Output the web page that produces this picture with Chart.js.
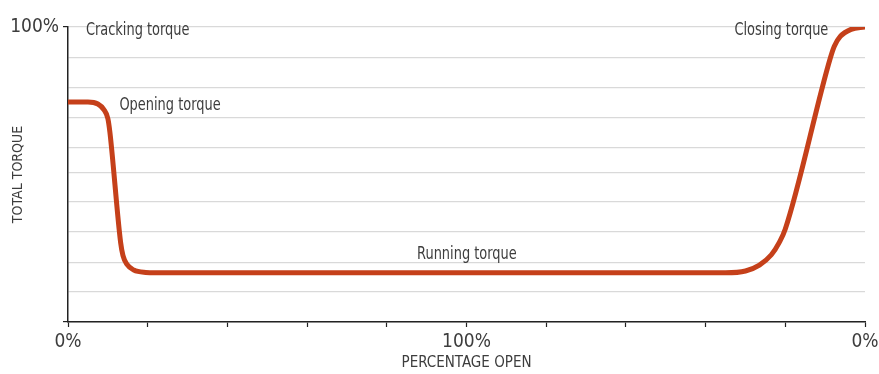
<!DOCTYPE html>
<html>
<head>
<meta charset="utf-8">
<script src="https://cdn.jsdelivr.net/npm/chart.js@4"></script>
<style>
  html, body { margin: 0; padding: 0; background: #fff; }
  #wrap { width: 879px; height: 374px; }
</style>
</head>
<body>
<div id="wrap"><canvas id="torqueChart" width="879" height="374"></canvas></div>
<script>
// stroke: 0..100 opening, 100..200 closing back to 0%
const strokePos = [0, 5.0, 7.5, 9.0, 10.0, 10.5, 13.2, 13.8, 14.8, 16.5, 19.5, 22, 165, 170, 173.5, 176.5, 178.5, 180, 191.3, 192.3, 193.8, 196.5, 200];
const torque    = [74.6, 74.6, 73.9, 72.0, 69.0, 64.5, 27.0, 22.5, 19.5, 17.6, 16.8, 16.7, 16.7, 17.3, 19.3, 22.8, 27.0, 31.5, 89.5, 93.5, 96.8, 99.2, 100];

const xTickLabels = { 0: '0%', 100: '100%', 200: '0%' };
const yTickLabels = { 100: '100%' };
const gridLevels = [0, 10.2, 20.3, 30.5, 40.7, 50.8, 59.0, 69.2, 79.3, 89.5, 100];

const notes = [
  { text: 'Cracking torque', x: 4.5, y: 97.2, align: 'left' },
  { text: 'Opening torque', x: 12.9, y: 71.7, align: 'left' },
  { text: 'Running torque', x: 100.1, y: 21.2, align: 'center' },
  { text: 'Closing torque', x: 190.8, y: 97.2, align: 'right' }
];

const FONT = "'DejaVu Sans Condensed', 'DejaVu Sans', sans-serif";
const TEXT = '#3d3d3d';

// annotation text, squeezed a bit to look like the condensed face of the original
const notePlugin = {
  id: 'notes',
  afterDatasetsDraw(chart) {
    const ctx = chart.ctx;
    const xs = chart.scales.x, ys = chart.scales.y;
    const squeeze = 0.8;
    ctx.save();
    ctx.font = '18px ' + FONT;
    ctx.fillStyle = TEXT;
    ctx.textBaseline = 'alphabetic';
    notes.forEach(n => {
      const px = xs.getPixelForValue(n.x), py = ys.getPixelForValue(n.y);
      ctx.save();
      ctx.translate(px, py);
      ctx.scale(squeeze, 1);
      ctx.textAlign = n.align;
      ctx.fillText(n.text, 0, 0);
      ctx.restore();
    });
    ctx.restore();
  }
};

new Chart(document.getElementById('torqueChart'), {
  type: 'line',
  data: {
    datasets: [{
      data: strokePos.map((x, i) => ({ x: x, y: torque[i] })),
      borderColor: '#c5401a',
      borderWidth: 5,
      pointRadius: 0,
      fill: false,
      cubicInterpolationMode: 'monotone',
      borderCapStyle: 'round'
    }]
  },
  options: {
    responsive: false,
    animation: false,
    layout: { padding: { top: 27, right: 14, left: 0, bottom: 0 } },
    plugins: { legend: { display: false }, tooltip: { enabled: false } },
    scales: {
      x: {
        type: 'linear',
        min: 0,
        max: 200,
        afterFit: s => { s.height = 52; s.paddingRight = 0; s.paddingLeft = 0; },
        ticks: {
          stepSize: 20,
          autoSkip: false,
          maxRotation: 0,
          padding: 4,
          color: TEXT,
          font: { family: FONT, size: 19 },
          callback: v => xTickLabels[v] || ''
        },
        grid: { drawOnChartArea: false, drawTicks: true, tickLength: 5, tickColor: '#222', tickWidth: 1.2 },
        border: { color: '#222', width: 1.5 },
        title: {
          display: true,
          text: 'PERCENTAGE OPEN',
          color: TEXT,
          font: { family: FONT, size: 15 },
          padding: { top: 0, bottom: 2 }
        }
      },
      y: {
        min: 0,
        max: 100,
        afterFit: s => { s.width = 68; },
        afterBuildTicks: s => { s.ticks = gridLevels.map(v => ({ value: v })); },
        ticks: {
          autoSkip: false,
          padding: 4,
          color: TEXT,
          font: { family: FONT, size: 19 },
          callback: v => yTickLabels[v] || ''
        },
        grid: {
          color: '#d9d9d9',
          lineWidth: 1.2,
          tickLength: 5,
          tickColor: c => (c.tick && (c.tick.value === 0 || c.tick.value === 100)) ? '#222' : 'rgba(0,0,0,0)'
        },
        border: { color: '#222', width: 1.5 },
        title: {
          display: true,
          text: 'TOTAL TORQUE',
          color: TEXT,
          font: { family: FONT, size: 14 },
          padding: { top: 10, bottom: 0 }
        }
      }
    }
  },
  plugins: [notePlugin]
});
</script>
</body>
</html>
